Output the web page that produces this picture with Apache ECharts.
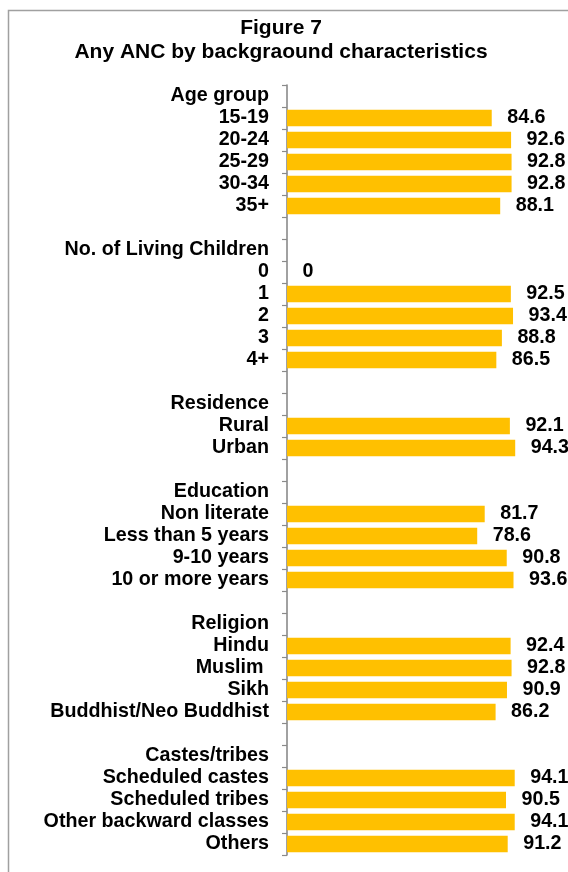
<!DOCTYPE html>
<html>
<head>
<meta charset="utf-8">
<script src="https://cdn.jsdelivr.net/npm/echarts@6/dist/echarts.min.js"></script>
<style>html,body{margin:0;padding:0;background:#fff;}#c{width:568px;height:872px;}</style>
</head>
<body>
<div id="c"></div>
<script>
var titleLines = ['Figure 7', 'Any ANC by backgraound characteristics'];
var categories = [
  'Age group', '15-19', '20-24', '25-29', '30-34', '35+', '',
  'No. of Living Children', '0', '1', '2', '3', '4+', '',
  'Residence', 'Rural', 'Urban', '',
  'Education', 'Non literate', 'Less than 5 years', '9-10 years', '10 or more years', '',
  'Religion', 'Hindu', 'Muslim ', 'Sikh', 'Buddhist/Neo Buddhist', '',
  'Castes/tribes', 'Scheduled castes', 'Scheduled tribes', 'Other backward classes', 'Others'
];
var values = [
  null, 84.6, 92.6, 92.8, 92.8, 88.1, null,
  null, 0, 92.5, 93.4, 88.8, 86.5, null,
  null, 92.1, 94.3, null,
  null, 81.7, 78.6, 90.8, 93.6, null,
  null, 92.4, 92.8, 90.9, 86.2, null,
  null, 94.1, 90.5, 94.1, 91.2
];
var FONT = '"Liberation Sans", Arial, sans-serif';
var chart = echarts.init(document.getElementById('c'));
chart.setOption({
  animation: false,
  graphic: [
    {type: 'rect', shape: {x: 8.5, y: 10.5, width: 700, height: 1000}, style: {fill: 'none', stroke: '#a0a0a0', lineWidth: 1.5}, silent: true},
    {type: 'text', x: 281, y: 28, style: {text: titleLines[0], font: 'bold 21px ' + FONT, fill: '#000', textAlign: 'center', textVerticalAlign: 'middle', align: 'center', verticalAlign: 'middle'}},
    {type: 'text', x: 281, y: 52, style: {text: titleLines[1], font: 'bold 21px ' + FONT, fill: '#000', textAlign: 'center', textVerticalAlign: 'middle', align: 'center', verticalAlign: 'middle'}}
  ],
  grid: {left: 287, top: 85, width: 242, height: 770, containLabel: false},
  xAxis: {type: 'value', min: 0, max: 100, show: false},
  yAxis: {
    type: 'category', data: categories, inverse: true,
    axisLine: {show: true, lineStyle: {color: '#8a8a8a', width: 1.6}},
    axisTick: {show: true, length: 5, lineStyle: {color: '#8a8a8a', width: 1.2}},
    axisLabel: {margin: 18, fontSize: 19.7, fontWeight: 'bold', color: '#000', fontFamily: FONT, interval: 0}
  },
  series: [{
    type: 'bar', data: values, barCategoryGap: '25%',
    itemStyle: {color: '#FFC000', borderWidth: 0},
    label: {show: true, position: 'right', distance: 15.5, fontSize: 19.7, fontWeight: 'bold', color: '#000', fontFamily: FONT}
  }]
});
</script>
</body>
</html>
